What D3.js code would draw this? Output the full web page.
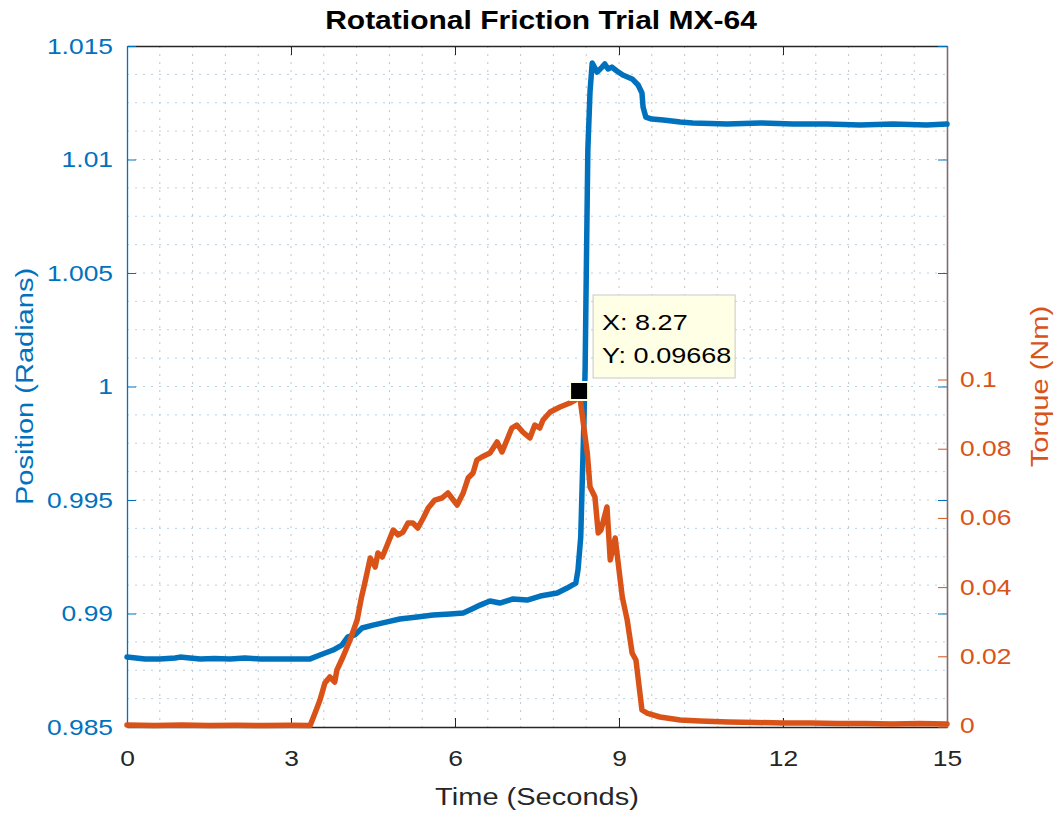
<!DOCTYPE html>
<html>
<head>
<meta charset="utf-8">
<script src="https://cdn.jsdelivr.net/npm/d3@7"></script>
<style>
    body { margin: 0; background: #fff; }
    text { font-family: "Liberation Sans", Arial, Helvetica, sans-serif; }
</style>
</head>
<body>
<svg id="chart"></svg>
<script>
// position trace (left axis)
const positionTime = [0, 0.33, 0.60, 0.88, 0.97, 1.15, 1.34, 1.60, 1.88, 2.16, 2.43, 2.80, 3.17, 3.35,
    3.53, 3.77, 3.93, 4.04, 4.17, 4.30, 4.50, 4.76, 4.99, 5.31, 5.60, 5.91, 6.15, 6.31, 6.46, 6.64,
    6.82, 7.06, 7.32, 7.56, 7.87, 8.05, 8.21, 8.25, 8.30, 8.33, 8.36, 8.38, 8.40, 8.43, 8.47, 8.51,
    8.60, 8.69, 8.74, 8.80, 8.87, 8.96, 9.07, 9.24, 9.35, 9.42, 9.44, 9.49, 9.60, 9.81, 10.12, 10.35,
    10.98, 11.58, 12.18, 12.81, 13.41, 14.01, 14.63, 15.0];
const positionRad = [0.98808, 0.98800, 0.98800, 0.98804, 0.98808, 0.98804, 0.98800, 0.98802, 0.98800, 0.98804,
    0.98800, 0.98800, 0.98800, 0.98800, 0.98817, 0.98839, 0.98861, 0.98897, 0.98906, 0.98936,
    0.98949, 0.98963, 0.98976, 0.98985, 0.98993, 0.98998, 0.99002, 0.99020, 0.99037, 0.99055,
    0.99046, 0.99064, 0.99059, 0.99077, 0.99090, 0.99112, 0.99134, 0.99192, 0.99337, 0.99600,
    0.99860, 1.00073, 1.00469, 1.01042, 1.01300, 1.01425, 1.01385, 1.01407, 1.01421, 1.01399,
    1.01407, 1.01390, 1.01372, 1.01355, 1.01328, 1.01293, 1.01231, 1.01187, 1.01178, 1.01174,
    1.01165, 1.01161, 1.01156, 1.01161, 1.01156, 1.01156, 1.01152, 1.01156, 1.01152, 1.01156];

// torque trace (right axis)
const torqueTime = [0, 0.5, 1.0, 1.5, 2.0, 2.5, 2.98, 3.35, 3.44, 3.53, 3.62, 3.71, 3.80, 3.84, 3.95,
    4.08, 4.21, 4.29, 4.35, 4.45, 4.54, 4.59, 4.67, 4.76, 4.87, 4.96, 5.05, 5.14, 5.23, 5.32, 5.42,
    5.51, 5.63, 5.76, 5.87, 6.04, 6.15, 6.24, 6.33, 6.40, 6.49, 6.64, 6.70, 6.77, 6.86, 6.95, 7.04,
    7.13, 7.24, 7.37, 7.46, 7.55, 7.61, 7.74, 7.92, 8.10, 8.20, 8.27, 8.34, 8.42, 8.47, 8.56, 8.62,
    8.67, 8.78, 8.84, 8.93, 9.06, 9.15, 9.24, 9.31, 9.42, 9.51, 9.75, 10.12, 10.48, 11.0, 11.5,
    12.0, 12.5, 13.0, 13.5, 14.0, 14.5, 15.0];
const torqueNm = [0.00014, 0, 0.00014, 0, 0.00007, 0, 0.00007, 0, 0.00361, 0.00737, 0.01228, 0.01402,
    0.01257, 0.01604, 0.01980, 0.02471, 0.03049, 0.03714, 0.04118, 0.04841, 0.04581, 0.04986,
    0.04870, 0.05217, 0.05650, 0.05506, 0.05592, 0.05853, 0.05853, 0.05708, 0.05997, 0.06286,
    0.06517, 0.06575, 0.06720, 0.06373, 0.06720, 0.07153, 0.07298, 0.07673, 0.07760, 0.07876,
    0.08020, 0.08194, 0.07905, 0.08251, 0.08598, 0.08685, 0.08483, 0.08309, 0.08685, 0.08598,
    0.08829, 0.09061, 0.09205, 0.09321, 0.09408, 0.09668, 0.08829, 0.07876, 0.06893, 0.06604,
    0.05564, 0.05650, 0.06315, 0.04783, 0.05419, 0.03714, 0.03049, 0.02095, 0.01893, 0.00448,
    0.00361, 0.00246, 0.00159, 0.00130, 0.00101, 0.00087, 0.00072, 0.00072, 0.00058, 0.00058,
    0.00043, 0.00058, 0.00043];

const xTicks = [0, 3, 6, 9, 12, 15];
const leftTicks = [0.985, 0.99, 0.995, 1, 1.005, 1.01, 1.015];
const leftTickLabels = ['0.985', '0.99', '0.995', '1', '1.005', '1.01', '1.015'];
const rightTicks = [0, 0.02, 0.04, 0.06, 0.08, 0.1];
const rightTickLabels = ['0', '0.02', '0.04', '0.06', '0.08', '0.1'];
const datatip = { x: 8.27, y: 0.09668 };

const WIDTH = 1061;
const HEIGHT = 813;
const MARGIN = { top: 46, right: 114, bottom: 86, left: 127 };
const INNER_WIDTH = WIDTH - MARGIN.left - MARGIN.right;
const INNER_HEIGHT = HEIGHT - MARGIN.top - MARGIN.bottom;
const BLUE = '#0072BD';
const ORANGE = '#D95319';
const DARK = '#262626';
const TICK = 9;
const STRETCH = 1.2;

const svg = d3.select('#chart')
    .attr('width', WIDTH)
    .attr('height', HEIGHT);

const g = svg.append('g')
    .attr('transform', 'translate(' + MARGIN.left + ',' + MARGIN.top + ')');

const xScale = d3.scaleLinear().domain([0, 15]).range([0, INNER_WIDTH]);
const yLeft = d3.scaleLinear().domain([0.985, 1.015]).range([INNER_HEIGHT, 0]);
const yRight = d3.scaleLinear().domain([-0.00043, 0.19639]).range([INNER_HEIGHT, 0]);

// grid (dotted, minor + major)
g.append('g').selectAll('line')
    .data(d3.range(1, 25).map(i => i * 0.6))
    .join('line')
    .attr('x1', d => xScale(d)).attr('x2', d => xScale(d))
    .attr('y1', 0).attr('y2', INNER_HEIGHT)
    .attr('stroke', '#c4c4c4')
    .attr('stroke-dasharray', '2,6');
g.append('g').selectAll('line')
    .data(d3.range(1, 24).map(i => 0.985 + i * 0.00125))
    .join('line')
    .attr('x1', 0).attr('x2', INNER_WIDTH)
    .attr('y1', d => yLeft(d)).attr('y2', d => yLeft(d))
    .attr('stroke', '#b3d3ea')
    .attr('stroke-dasharray', '2,6');

// axes
const styleAxis = (sel, color) => {
    sel.attr('color', color)
        .attr('font-size', 22)
        .attr('font-family', '"Liberation Sans", Arial, Helvetica, sans-serif');
    sel.selectAll('.domain').attr('stroke-width', 1.3);
};

g.append('g')
    .attr('transform', 'translate(0,' + INNER_HEIGHT + ')')
    .call(d3.axisBottom(xScale).tickValues(xTicks).tickSize(-TICK).tickSizeOuter(0).tickPadding(23).tickFormat(d3.format('d')))
    .call(sel => styleAxis(sel, DARK));
g.append('g')
    .call(d3.axisTop(xScale).tickValues(xTicks).tickSize(-TICK).tickSizeOuter(0).tickFormat(''))
    .call(sel => styleAxis(sel, DARK));

// left-axis ticks mirrored on the right edge
g.append('g')
    .attr('transform', 'translate(' + INNER_WIDTH + ',0)')
    .call(d3.axisRight(yLeft).tickValues(leftTicks).tickSize(-TICK).tickSizeOuter(0).tickFormat(''))
    .call(sel => styleAxis(sel, BLUE));
g.append('g')
    .call(d3.axisLeft(yLeft).tickValues(leftTicks).tickSize(-TICK).tickSizeOuter(0).tickPadding(14)
        .tickFormat((d, i) => leftTickLabels[i]))
    .call(sel => styleAxis(sel, BLUE));
g.append('g')
    .attr('transform', 'translate(' + INNER_WIDTH + ',0)')
    .call(d3.axisRight(yRight).tickValues(rightTicks).tickSize(-TICK).tickSizeOuter(0).tickPadding(13)
        .tickFormat((d, i) => rightTickLabels[i]))
    .call(sel => styleAxis(sel, ORANGE));

// lines
const positionData = positionTime.map((t, i) => ({ x: t, y: positionRad[i] }));
const torqueData = torqueTime.map((t, i) => ({ x: t, y: torqueNm[i] }));

g.append('path')
    .datum(positionData)
    .attr('d', d3.line().x(d => xScale(d.x)).y(d => yLeft(d.y)))
    .attr('fill', 'none')
    .attr('stroke', BLUE)
    .attr('stroke-width', 5.5)
    .attr('stroke-linejoin', 'round')
    .attr('stroke-linecap', 'round');

g.append('path')
    .datum(torqueData)
    .attr('d', d3.line().x(d => xScale(d.x)).y(d => yRight(d.y)))
    .attr('fill', 'none')
    .attr('stroke', ORANGE)
    .attr('stroke-width', 5.5)
    .attr('stroke-linejoin', 'round')
    .attr('stroke-linecap', 'round');

// data tip
const tipX = xScale(datatip.x);
const tipY = yRight(datatip.y);
g.append('rect')
    .attr('x', tipX - 9).attr('y', tipY - 9)
    .attr('width', 18).attr('height', 18)
    .attr('fill', '#000')
    .attr('stroke', '#ffffe1')
    .attr('stroke-width', 2);

const tip = g.append('g')
    .attr('transform', 'translate(' + (tipX + 14) + ',' + (tipY - 96) + ')');
tip.append('rect')
    .attr('width', 142).attr('height', 83)
    .attr('fill', '#ffffe6')
    .attr('stroke', '#c8c8c8');
tip.append('text').attr('x', 9).attr('y', 35).attr('font-size', 22.5).attr('fill', '#000')
    .text('X: ' + datatip.x);
tip.append('text').attr('x', 9).attr('y', 68).attr('font-size', 22.5).attr('fill', '#000')
    .text('Y: ' + datatip.y);

// title + labels
svg.append('text')
    .attr('x', 541).attr('y', 29)
    .attr('text-anchor', 'middle')
    .attr('font-size', 25).attr('font-weight', 'bold')
    .attr('fill', '#000')
    .text('Rotational Friction Trial MX-64');
svg.append('text')
    .attr('x', MARGIN.left + INNER_WIDTH / 2).attr('y', 805)
    .attr('text-anchor', 'middle')
    .attr('font-size', 24.2)
    .attr('fill', DARK)
    .text('Time (Seconds)');
svg.append('text')
    .attr('transform', 'translate(33,' + (MARGIN.top + INNER_HEIGHT / 2) + ') rotate(-90)')
    .attr('text-anchor', 'middle')
    .attr('font-size', 24.2)
    .attr('fill', BLUE)
    .text('Position (Radians)');
svg.append('text')
    .attr('transform', 'translate(1048,' + (MARGIN.top + INNER_HEIGHT / 2) + ') rotate(-90)')
    .attr('text-anchor', 'middle')
    .attr('font-size', 24.2)
    .attr('fill', ORANGE)
    .text('Torque (Nm)');

// the picture is a bit wider than the font, widen every label
svg.selectAll('text').each(function () {
    const w = this.getComputedTextLength();
    d3.select(this).attr('textLength', w * STRETCH).attr('lengthAdjust', 'spacingAndGlyphs');
});
</script>
</body>
</html>
